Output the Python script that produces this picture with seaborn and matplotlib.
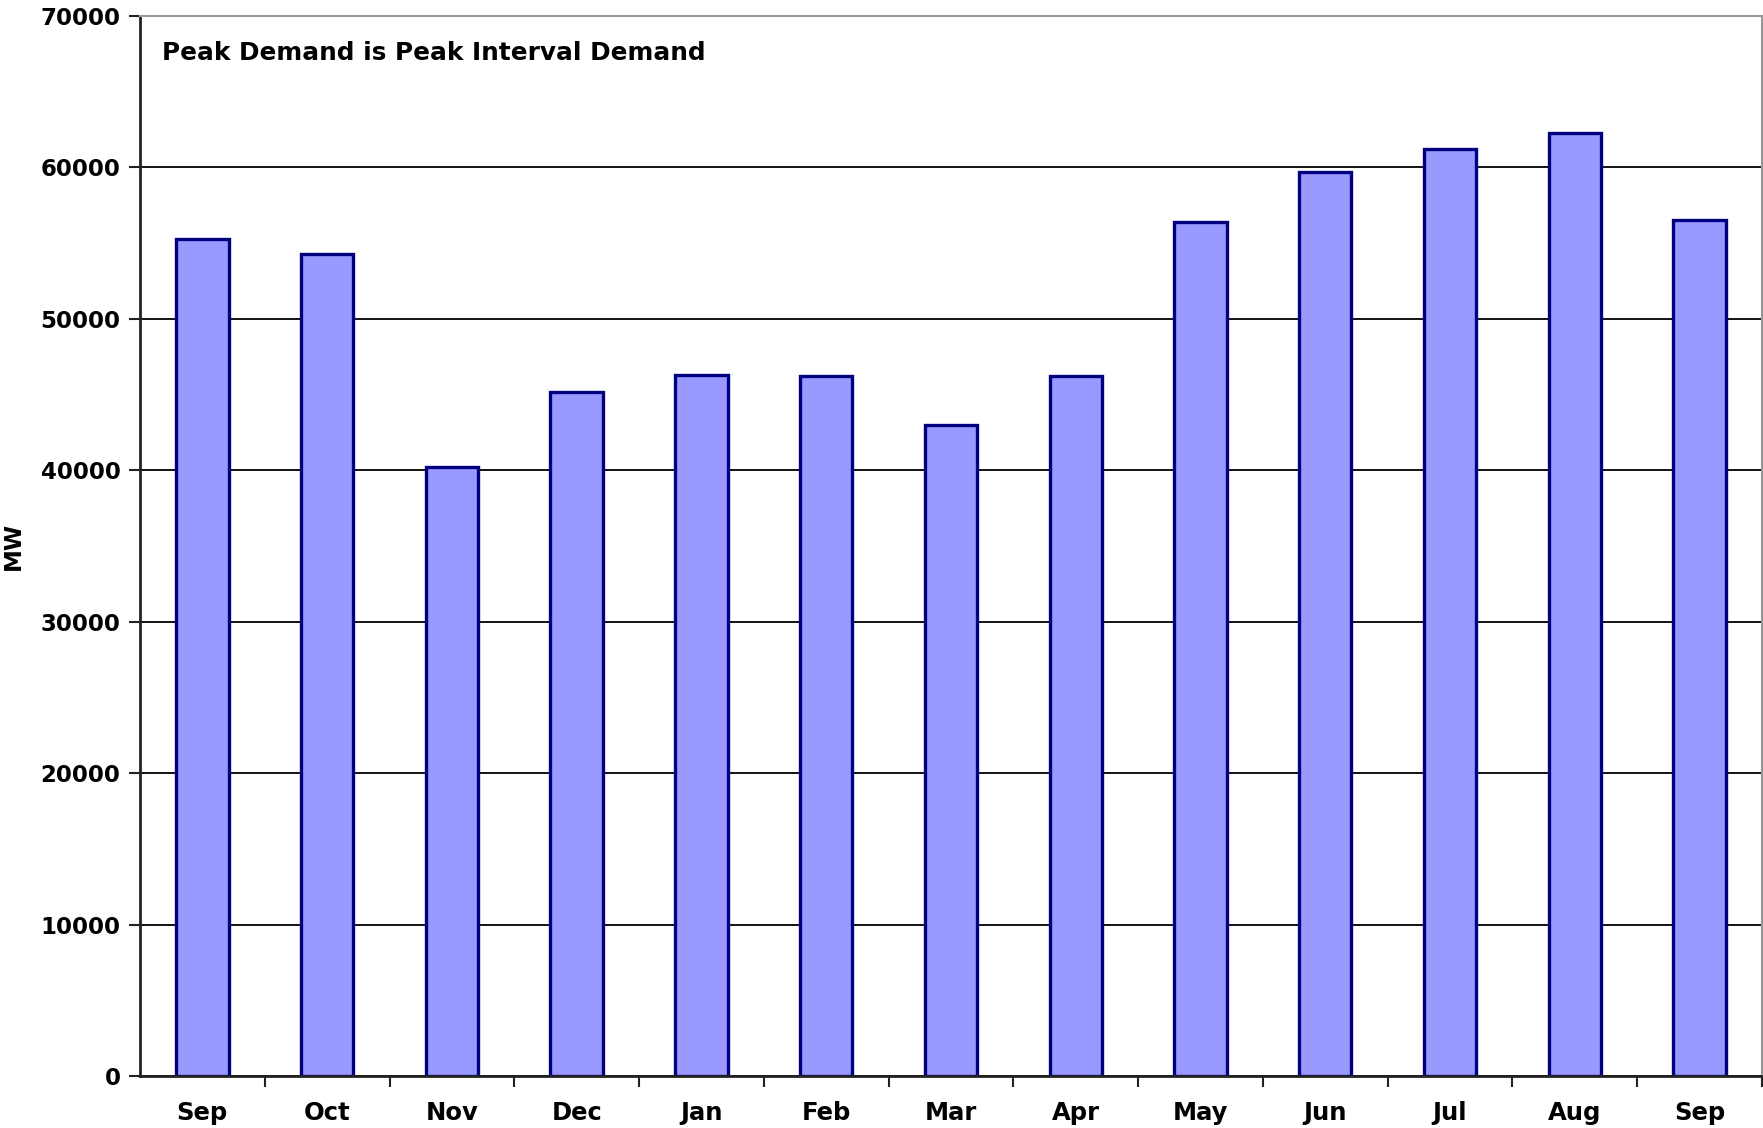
import numpy as np
import pandas as pd
import matplotlib
matplotlib.use("Agg")
import matplotlib.pyplot as plt
import seaborn as sns

# ========== DATA ==========
months = ["Sep", "Oct", "Nov", "Dec", "Jan", "Feb", "Mar",
          "Apr", "May", "Jun", "Jul", "Aug", "Sep"]
peak_mw = [55300, 54300, 40200, 45200, 46300, 46200, 43000,
           46200, 56400, 59700, 61200, 62300, 56500]
note = "Peak Demand is Peak Interval Demand"

df = pd.DataFrame({"slot": np.arange(len(months)), "mw": peak_mw})

# ========== STYLE ==========
sns.set_style("white")
plt.rcParams["font.family"] = ["DejaVu Sans"]
plt.rcParams["font.weight"] = "bold"
plt.rcParams["text.color"] = "black"
plt.rcParams["xtick.color"] = "black"
plt.rcParams["ytick.color"] = "black"
plt.rcParams["axes.labelcolor"] = "black"

fig = plt.figure(figsize=(17.63, 11.28), dpi=100)
ax = fig.add_axes([0.0794, 0.0461, 0.9200, 0.9397])

sns.barplot(data=df, x="slot", y="mw", ax=ax, width=0.42,
            color="#9999FF", saturation=1, edgecolor="#000080",
            linewidth=2.4)

ax.set_xlim(-0.5, len(months) - 0.5)
ax.set_ylim(0, 70000)
ax.set_yticks(np.arange(0, 70001, 10000))
ax.set_yticklabels([str(v) for v in range(0, 70001, 10000)],
                   fontsize=16.5, fontweight="bold")

# month labels centred, tick marks between categories
ax.set_xticks(np.arange(len(months)))
ax.set_xticklabels(months, fontsize=17.5, fontweight="bold")
ax.set_xticks(np.arange(len(months)) + 0.5, minor=True)
ax.tick_params(axis="x", which="major", length=0, pad=18)
ax.tick_params(axis="x", which="minor", length=8, width=1.5,
               direction="out", color="#222222", bottom=True)
ax.tick_params(axis="y", length=8, width=1.5, direction="out",
               color="#222222", left=True, pad=6)

ax.yaxis.grid(True, color="black", linewidth=1.3)
ax.set_axisbelow(True)

for side in ["left", "bottom"]:
    ax.spines[side].set_color("#222222")
    ax.spines[side].set_linewidth(2)
for side in ["top", "right"]:
    ax.spines[side].set_color("#999999")
    ax.spines[side].set_linewidth(1.5)

ax.set_xlabel("")
ax.set_ylabel("MW", fontsize=16.5, fontweight="bold")
ax.yaxis.set_label_coords(-0.071, 0.5)

ax.text(0.0135, 0.965, note, transform=ax.transAxes, fontsize=17.8,
        fontweight="bold", va="center", ha="left")

fig.savefig("out.png", dpi=100)
